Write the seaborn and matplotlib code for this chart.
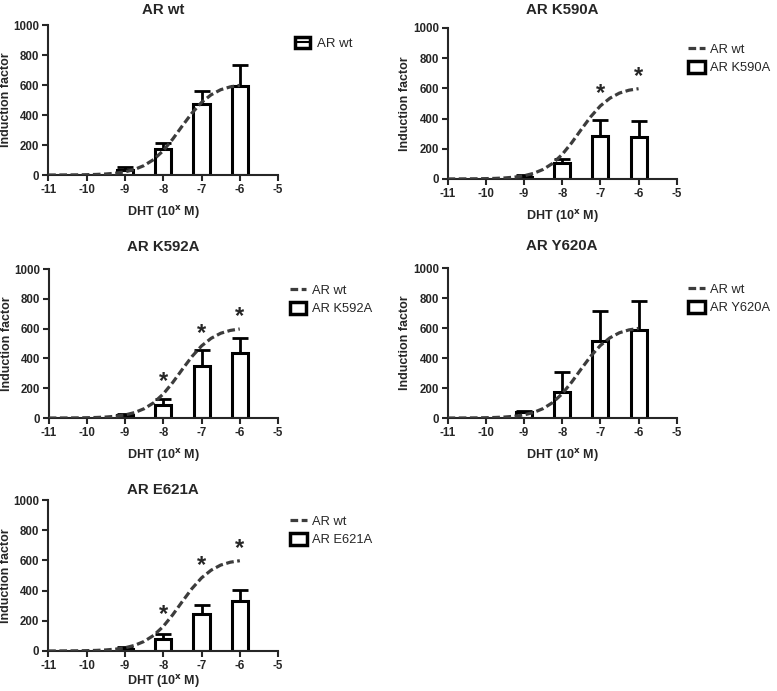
import numpy as np
import pandas as pd
import seaborn as sns
import matplotlib.pyplot as plt
from matplotlib.patches import Patch
from matplotlib.lines import Line2D
from matplotlib.legend_handler import HandlerTuple

# DHT doses (log M)
doses = [-9, -8, -7, -6]

# mean induction factor and upper SEM per construct
wt_mean = [35, 173, 473, 593]
wt_err = [20, 38, 89, 140]
k590a_mean = [15, 104, 285, 281]
k590a_err = [10, 29, 107, 106]
k592a_mean = [20, 89, 347, 440]
k592a_err = [10, 38, 107, 97]
y620a_mean = [38, 173, 511, 584]
y620a_err = [11, 134, 200, 194]
e621a_mean = [12, 77, 243, 332]
e621a_err = [12, 38, 60, 71]

# AR wt fitted curve
fit_x = [-11, -10.75, -10.5, -10.25, -10, -9.75, -9.5, -9.25, -9, -8.75, -8.5,
         -8.25, -8, -7.75, -7.5, -7.25, -7, -6.75, -6.5, -6.25, -6]
fit_y = [0.2, 0.4, 0.7, 1.2, 2.2, 3.9, 6.9, 12, 21, 37, 63,
         103, 162, 240, 328, 413, 484, 535, 569, 588, 598]

# significant doses (*)
k590a_sig = [-7, -6]
k592a_sig = [-8, -7, -6]
y620a_sig = []
e621a_sig = [-8, -7, -6]

panels = [
    ('AR wt', wt_mean, wt_err, None, [0.062, 0.7467, 0.296, 0.217], 8, 6),
    ('AR K590A', k590a_mean, k590a_err, k590a_sig, [0.576, 0.741, 0.295, 0.2185], 10, 6),
    ('AR K592A', k592a_mean, k592a_err, k592a_sig, [0.0627, 0.395, 0.295, 0.2156], 13, 6),
    ('AR Y620A', y620a_mean, y620a_err, y620a_sig, [0.576, 0.395, 0.295, 0.217], 13, 6),
    ('AR E621A', e621a_mean, e621a_err, e621a_sig, [0.062, 0.0579, 0.296, 0.2185], 4, 1),
]

sns.set_style('ticks')
plt.rcParams['font.family'] = ['Liberation Sans', 'DejaVu Sans']
plt.rcParams['axes.unicode_minus'] = False

fig = plt.figure(figsize=(7.77, 6.91), dpi=100)
curve_df = pd.DataFrame({'x': fit_x, 'y': fit_y})

for name, mean, err, sig, rect, tpad, xpad in panels:
    ax = fig.add_axes(rect)
    df = pd.DataFrame({'dose': doses, 'value': mean})
    ax.errorbar(doses, mean, yerr=[np.zeros(len(err)), err], fmt='none',
                ecolor='black', elinewidth=2, capsize=5.5, capthick=2, zorder=1)
    sns.barplot(data=df, x='dose', y='value', native_scale=True, width=0.42,
                color='white', edgecolor='black', linewidth=2.2, errorbar=None,
                ax=ax, zorder=2)
    sns.lineplot(data=curve_df, x='x', y='y', color='#3c3c3c', linewidth=2.3,
                 ax=ax, zorder=3)
    ax.lines[-1].set_dashes((2.4, 1.1))
    ax.lines[-1].set_dash_capstyle('butt')

    if sig:
        for d in sig:
            cy = fit_y[fit_x.index(d)]
            ax.text(d, cy + 5, '*', ha='center', va='bottom', fontsize=17,
                    fontweight='bold')

    ax.set_xlim(-11, -5)
    ax.set_ylim(0, 1000)
    ax.set_xticks(range(-11, -4))
    ax.set_yticks(range(0, 1001, 200))
    for s in ['top', 'right']:
        ax.spines[s].set_visible(False)
    for s in ['left', 'bottom']:
        ax.spines[s].set_linewidth(1.5)
    ax.tick_params(width=1.5, length=4.3, labelsize=8.3, pad=2)
    for lab in ax.get_xticklabels() + ax.get_yticklabels():
        lab.set_fontweight('bold')
    ax.set_xlabel(r'DHT (10$^{\mathbf{x}}$ M)', fontsize=9, fontweight='bold',
                  labelpad=xpad)
    ax.set_ylabel('Induction factor', fontsize=9, fontweight='bold', labelpad=1)
    ax.set_title(name, fontsize=10.8, fontweight='bold', pad=tpad)

    bar_handle = Patch(facecolor='white', edgecolor='black', linewidth=2.5)
    if sig is None:
        handles = [(bar_handle, Line2D([], [], color='black', linewidth=1.5))]
        labels = ['AR wt']
        ax.legend(handles, labels, loc='upper left', bbox_to_anchor=(1.02, 1.0),
                  frameon=False, fontsize=9.5, handlelength=1.2, handleheight=0.9,
                  handletextpad=0.5, handler_map={tuple: HandlerTuple(ndivide=1)})
    else:
        line_handle = Line2D([], [], color='#3c3c3c', linewidth=2.3,
                             dashes=(2.4, 1.1))
        ax.legend([line_handle, bar_handle], ['AR wt', name], loc='upper left',
                  bbox_to_anchor=(1.0, 0.98), frameon=False, fontsize=9.3,
                  handlelength=1.3, handleheight=1.0, handletextpad=0.4,
                  labelspacing=0.4)

fig.savefig('out.png', dpi=100)
